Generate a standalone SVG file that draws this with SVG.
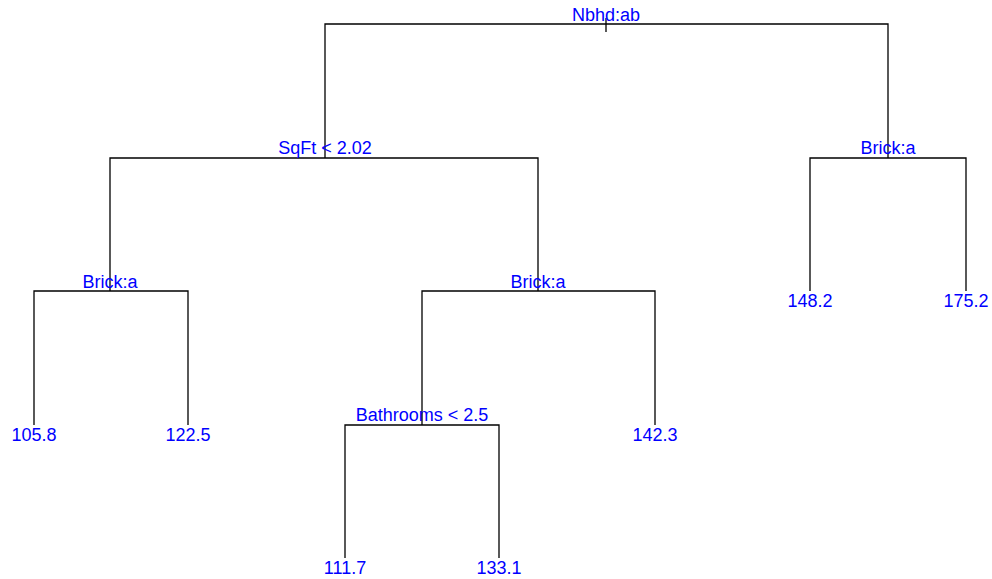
<svg xmlns="http://www.w3.org/2000/svg" width="992" height="579" viewBox="0 0 992 579">
<style>
.e{fill:none;stroke:#000;stroke-width:1.3;stroke-linecap:butt}
.t{font-family:"Liberation Sans",Arial,sans-serif;font-size:18px;fill:#0000FF;text-anchor:middle}
</style>
<rect width="992" height="579" fill="#fff"/>
<g id="connectors">
<path class="e" d="M606,18V32"/>
<path class="e" d="M325,158V24H888V158"/>
<path class="e" d="M110,291V158H538V291"/>
<path class="e" d="M810,291V158H966V291"/>
<path class="e" d="M34,425V291H188V425"/>
<path class="e" d="M422,425V291H655V425"/>
<path class="e" d="M345,558V425H499V558"/>
</g>
<g id="n-root"><text class="t" x="606" y="21">Nbhd:ab</text></g>
<g id="n-sqft"><text class="t" x="325" y="154">SqFt &lt; 2.02</text></g>
<g id="n-brick-r"><text class="t" x="888" y="154">Brick:a</text></g>
<g id="n-brick-l"><text class="t" x="110" y="288">Brick:a</text></g>
<g id="n-brick-m"><text class="t" x="538" y="288">Brick:a</text></g>
<g id="n-bath"><text class="t" x="422" y="421">Bathrooms &lt; 2.5</text></g>
<g id="l-1058"><text class="t" x="34" y="441">105.8</text></g>
<g id="l-1225"><text class="t" x="188" y="441">122.5</text></g>
<g id="l-1423"><text class="t" x="655" y="441">142.3</text></g>
<g id="l-1482"><text class="t" x="810" y="307">148.2</text></g>
<g id="l-1752"><text class="t" x="966" y="307">175.2</text></g>
<g id="l-1117"><text class="t" x="345" y="574">111.7</text></g>
<g id="l-1331"><text class="t" x="499" y="574">133.1</text></g>
</svg>
